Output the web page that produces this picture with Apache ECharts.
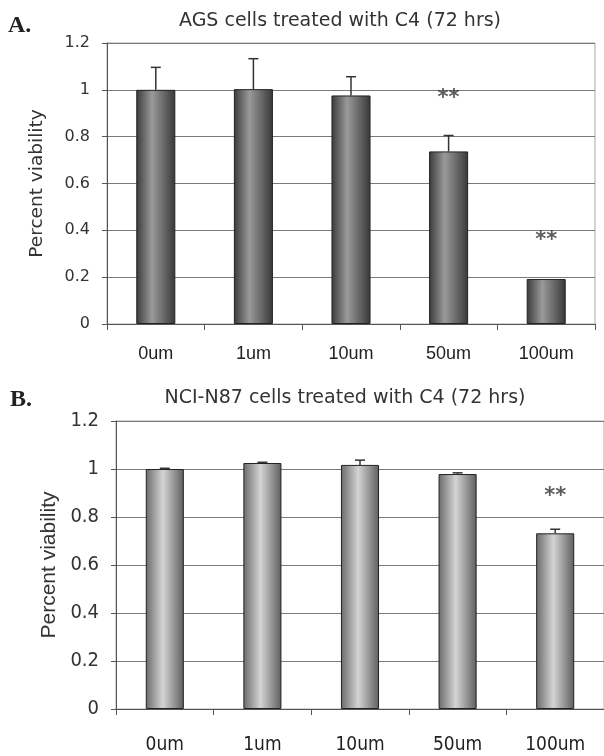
<!DOCTYPE html>
<html><head><meta charset="utf-8">
<script src="https://cdn.jsdelivr.net/npm/echarts@6/dist/echarts.min.js"></script>
<style>html,body{margin:0;padding:0;background:#fff}#c{width:604px;height:756px}</style>
</head><body><div id="c"></div>
<script>
// ---- data ----
const categories = ['0um', '1um', '10um', '50um', '100um'];
const agsTitle = 'AGS cells treated with C4 (72 hrs)';
const ncTitle = 'NCI-N87 cells treated with C4 (72 hrs)';
const yName = 'Percent viability';
const agsMean = [1.0, 1.003, 0.976, 0.737, 0.192];
const agsErr  = [0.096, 0.13, 0.08, 0.068, 0];
const agsStars = [null, null, null, 0.983, 0.378];
const ncMean = [1.0, 1.025, 1.017, 0.979, 0.732];
const ncErr  = [0.003, 0.003, 0.02, 0.005, 0.017];
const ncStars = [null, null, null, null, 0.908];
const yMin = 0, yMax = 1.2, yStep = 0.2;

const chart = echarts.init(document.getElementById('c'), null, {renderer: 'canvas'});

const topGrad = new echarts.graphic.LinearGradient(0, 0, 1, 0, [
  {offset: 0, color: '#3a3a3a'}, {offset: 0.4, color: '#9a9a9a'}, {offset: 1, color: '#383838'}]);
const botGrad = new echarts.graphic.LinearGradient(0, 0, 1, 0, [
  {offset: 0, color: '#6a6a6a'}, {offset: 0.45, color: '#d4d4d4'}, {offset: 1, color: '#5e5e5e'}]);

const narrow = '"DejaVu Sans Condensed", "Liberation Sans", sans-serif';

function errRender(params, api) {
  const i = api.value(0), m = api.value(1), e = api.value(2);
  if (!e) return null;
  const p0 = api.coord([i, m]);
  const p1 = api.coord([i, m + e]);
  const st = {stroke: '#333', lineWidth: 1.5};
  return {type: 'group', children: [
    {type: 'line', shape: {x1: p0[0], y1: p0[1], x2: p1[0], y2: p1[1]}, style: st},
    {type: 'line', shape: {x1: p1[0] - 5, y1: p1[1], x2: p1[0] + 5, y2: p1[1]}, style: st}
  ]};
}
function starData(arr) {
  const out = [];
  arr.forEach((v, i) => { if (v != null) out.push([i, v]); });
  return out;
}

function xAxis(gi, font, size, margin) {
  return {gridIndex: gi, type: 'category', data: categories,
    axisLine: {lineStyle: {color: '#555', width: 1}},
    axisTick: {show: true, length: 6, lineStyle: {color: '#555'}},
    axisLabel: {margin: margin, fontFamily: font, fontSize: size, color: '#222'}};
}
function yAxis(gi, lblFont, lblSize, nameFont, nameSize, nameGap) {
  return {gridIndex: gi, type: 'value', min: yMin, max: yMax, interval: yStep,
    name: yName, nameLocation: 'middle', nameGap: nameGap,
    nameTextStyle: {fontFamily: nameFont, fontSize: nameSize, color: '#333'},
    axisLine: {show: true, lineStyle: {color: '#555'}},
    axisTick: {show: true, length: 5, lineStyle: {color: '#555'}},
    axisLabel: {margin: 17, fontFamily: lblFont, fontSize: lblSize, color: '#333'},
    splitLine: {show: true, lineStyle: {color: '#7a7a7a', width: 1}}};
}

const starLabel = {show: true, position: 'inside', formatter: '**', fontFamily: 'DejaVu Sans',
  fontWeight: 'bold', fontSize: 21, color: '#333', offset: [0, 5]};

const option = {
  animation: false,
  backgroundColor: '#fff',
  graphic: [
    {type: 'text', x: 8, y: 26, style: {text: 'A.', font: 'bold 24px "Liberation Serif"', fill: '#222', verticalAlign: 'middle'}},
    {type: 'text', x: 10, y: 400, style: {text: 'B.', font: 'bold 24px "Liberation Serif"', fill: '#222', verticalAlign: 'middle'}},
    {type: 'text', x: 340, y: 21, style: {text: agsTitle, font: '19px "DejaVu Sans"', fill: '#333', align: 'center', verticalAlign: 'middle'}},
    {type: 'text', x: 345, y: 398, style: {text: ncTitle, font: '19px "DejaVu Sans"', fill: '#333', align: 'center', verticalAlign: 'middle'}}
  ],
  grid: [
    {left: 107, top: 43, width: 488, height: 281, show: true, borderColor: '#aaa', borderWidth: 1},
    {left: 116, top: 421, width: 490, height: 288, show: true, borderColor: '#aaa', borderWidth: 1}
  ],
  xAxis: [xAxis(0, 'Liberation Sans', 18, 21), xAxis(1, narrow, 19, 27)],
  yAxis: [yAxis(0, 'DejaVu Sans', 16, 'DejaVu Sans', 18.5, 60), yAxis(1, narrow, 20, 'Liberation Sans', 21, 52)],
  series: [
    {type: 'bar', xAxisIndex: 0, yAxisIndex: 0, data: agsMean, barWidth: '40%',
      itemStyle: {color: topGrad, borderColor: '#222', borderWidth: 1}},
    {type: 'custom', xAxisIndex: 0, yAxisIndex: 0, z: 5, renderItem: errRender,
      encode: {x: 0, y: 1}, data: categories.map((c, i) => [i, agsMean[i], agsErr[i]])},
    {type: 'scatter', xAxisIndex: 0, yAxisIndex: 0, z: 6, symbolSize: 1, itemStyle: {color: 'rgba(0,0,0,0)'},
      data: starData(agsStars), label: starLabel},
    {type: 'bar', xAxisIndex: 1, yAxisIndex: 1, data: ncMean, barWidth: '39%',
      itemStyle: {color: botGrad, borderColor: '#222', borderWidth: 1}},
    {type: 'custom', xAxisIndex: 1, yAxisIndex: 1, z: 5, renderItem: errRender,
      encode: {x: 0, y: 1}, data: categories.map((c, i) => [i, ncMean[i], ncErr[i]])},
    {type: 'scatter', xAxisIndex: 1, yAxisIndex: 1, z: 6, symbolSize: 1, itemStyle: {color: 'rgba(0,0,0,0)'},
      data: starData(ncStars), label: starLabel}
  ]
};
chart.setOption(option);
</script>
</body></html>
